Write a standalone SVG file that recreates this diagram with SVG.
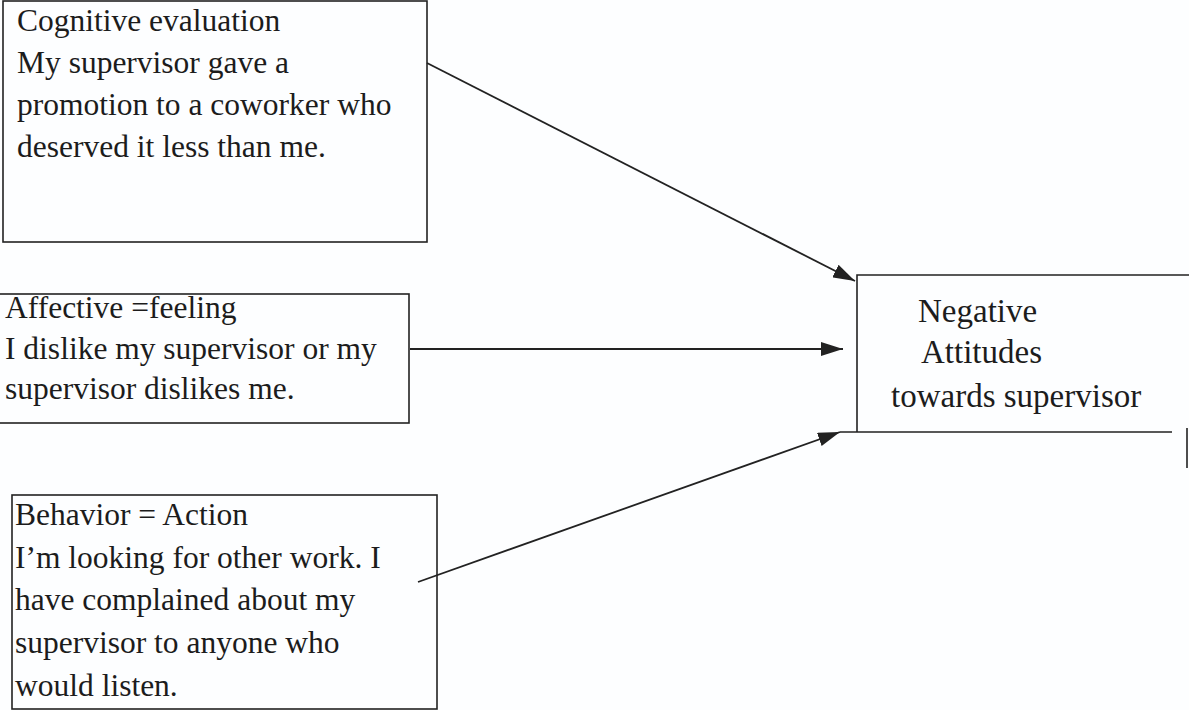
<svg xmlns="http://www.w3.org/2000/svg" width="1189" height="710" viewBox="0 0 1189 710">
<defs>
<style>
.box{fill:none;stroke:#222;stroke-width:1.6}
.t{font-family:"Liberation Serif","Times New Roman",serif;font-size:31.5px;fill:#1c1c1c}
.t2{font-size:33px}
.c{stroke:#222;stroke-width:1.8;fill:none}
</style>
<marker id="ah" viewBox="0 0 22 14" refX="22" refY="7" markerWidth="22" markerHeight="14" markerUnits="userSpaceOnUse" orient="auto">
<path d="M0,0 L22,7 L0,14 Z" fill="#222"/>
</marker>
</defs>
<rect width="1189" height="710" fill="#fdfeff"/>
<g id="node-cognitive">
<rect class="box" x="3" y="1" width="424" height="241"/>
<text class="t" x="17" y="31">Cognitive evaluation</text>
<text class="t" x="17" y="73">My supervisor gave a</text>
<text class="t" x="17" y="115">promotion to a coworker who</text>
<text class="t" x="17" y="157">deserved it less than me.</text>
</g>
<g id="node-affective">
<rect class="box" x="-1" y="294" width="410" height="129"/>
<text class="t" x="5" y="318">Affective =feeling</text>
<text class="t" x="5" y="359">I dislike my supervisor or my</text>
<text class="t" x="5" y="399">supervisor dislikes me.</text>
</g>
<g id="node-behavior">
<rect class="box" x="12" y="495" width="425" height="214"/>
<text class="t" x="15" y="525">Behavior = Action</text>
<text class="t" x="15" y="568">I’m looking for other work. I</text>
<text class="t" x="15" y="610">have complained about my</text>
<text class="t" x="15" y="653">supervisor to anyone who</text>
<text class="t" x="15" y="696">would listen.</text>
</g>
<g id="node-negative">
<path class="box" d="M1189,275 L857,275 L857,432 M840,432 L1172,432 M1187,428 L1187,468"/>
<text class="t t2" x="918" y="322">Negative</text>
<text class="t t2" x="921" y="363">Attitudes</text>
<text class="t t2" x="891" y="407">towards supervisor</text>
</g>
<g id="connectors">
<line class="c" x1="427" y1="63" x2="855" y2="281" marker-end="url(#ah)"/>
<line class="c" x1="410" y1="349" x2="843" y2="349" marker-end="url(#ah)"/>
<line class="c" x1="418" y1="582" x2="840" y2="432" marker-end="url(#ah)"/>
</g>
</svg>
